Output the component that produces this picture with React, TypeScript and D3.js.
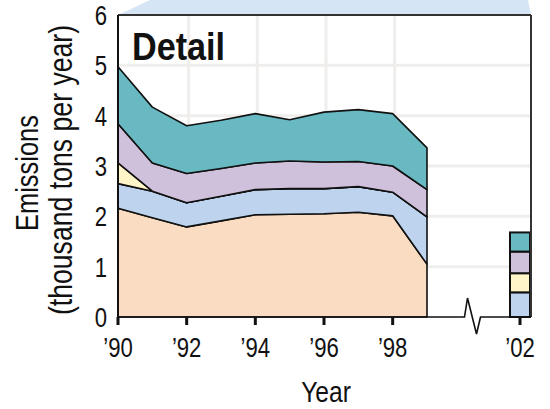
import React from "react";
import * as d3 from "d3";

const years = [1990, 1991, 1992, 1993, 1994, 1995, 1996, 1997, 1998, 1999];
const peach = [2.16, 1.97, 1.79, 1.91, 2.03, 2.04, 2.05, 2.08, 2.01, 1.05];
const blue = [0.49, 0.53, 0.48, 0.49, 0.5, 0.51, 0.5, 0.51, 0.47, 0.94];
const yellow = [0.41, 0, 0, 0, 0, 0, 0, 0, 0, 0];
const lavender = [0.78, 0.56, 0.58, 0.55, 0.53, 0.55, 0.53, 0.5, 0.52, 0.54];
const teal = [1.13, 1.11, 0.95, 0.96, 0.98, 0.82, 0.99, 1.03, 1.04, 0.83];

const barYear = 2002;
const barValues = [0, 0.49, 0.38, 0.43, 0.38]; // peach, blue, yellow, lavender, teal

const seriesKeys = ["peach", "blue", "yellow", "lavender", "teal"];
const seriesColors = ["#f9dcc1", "#bed4ee", "#fff5c9", "#cfc0dc", "#68b9c2"];

const xTickYears = [1990, 1992, 1994, 1996, 1998, 2002];
const xTickLabels = ["\u201990", "\u201992", "\u201994", "\u201996", "\u201998", "\u201902"];
const yTicks = [0, 1, 2, 3, 4, 5, 6];
const gridX = [1992, 1994, 1996, 1998];
const gridY = [1, 2, 3, 4, 5];

const FONT = "'Liberation Sans', Arial, sans-serif";
const SX = 0.82;

export default function App() {
  const left = 118, right = 531, top = 15, bottom = 317;
  const x = d3.scaleLinear().domain([1990, 1999, 2002]).range([left, 427, 520]);
  const y = d3.scaleLinear().domain([0, 6]).range([bottom, top]);

  const rows = years.map((yr, i) => ({
    year: yr,
    peach: peach[i],
    blue: blue[i],
    yellow: yellow[i],
    lavender: lavender[i],
    teal: teal[i],
  }));
  const stack = d3.stack<any>().keys(seriesKeys);
  const stacked = stack(rows);
  const area = d3
    .area<any>()
    .x((d) => x(d.data.year))
    .y0((d) => y(d[0]))
    .y1((d) => y(d[1]));

  const barRow: any = { year: barYear };
  seriesKeys.forEach((k, i) => (barRow[k] = barValues[i]));
  const barStacked = stack([barRow]);
  const barW = 20;

  const breakX = x(2000.5);
  const axisPath =
    `M${left},${bottom} L${breakX - 9},${bottom} L${breakX - 6},${bottom - 19} ` +
    `L${breakX + 3},${bottom + 17} L${breakX + 7},${bottom} L${right},${bottom}`;

  return (
    <svg width={550} height={409} style={{ position: "absolute", left: 0, top: 0 }} fontFamily={FONT}>
      <rect width={550} height={409} fill="#fff" />
      <polygon points={`${left},${top} 150,0 528,0 ${right},${top}`} fill="#d5e5f5" />
      {gridY.map((v) => (
        <line key={"gy" + v} x1={left} x2={right} y1={y(v)} y2={y(v)} stroke="#f0eeec" strokeWidth={3} />
      ))}
      {gridX.map((v) => (
        <line key={"gx" + v} x1={x(v) + 2} x2={x(v) + 2} y1={top} y2={bottom} stroke="#f0eeec" strokeWidth={3} />
      ))}
      {stacked.map((s, i) => (
        <path key={s.key} d={area(s) || ""} fill={seriesColors[i]} stroke="#111" strokeWidth={1.6} strokeLinejoin="round" />
      ))}
      {barStacked.map((s, i) =>
        s[0][1] - s[0][0] > 0 ? (
          <rect
            key={"b" + s.key}
            x={x(barYear) - barW / 2}
            y={y(s[0][1])}
            width={barW}
            height={y(s[0][0]) - y(s[0][1])}
            fill={seriesColors[i]}
            stroke="#111"
            strokeWidth={2}
          />
        ) : null
      )}
      <line x1={left} x2={right} y1={top} y2={top} stroke="#333" strokeWidth={2} />
      <line x1={right} x2={right} y1={top} y2={bottom} stroke="#333" strokeWidth={2} />
      <line x1={left} x2={left} y1={top} y2={bottom} stroke="#111" strokeWidth={2} />
      <path d={axisPath} fill="none" stroke="#111" strokeWidth={1.6} />
      {xTickYears.map((v, i) => (
        <g key={"xt" + v}>
          <line x1={x(v)} x2={x(v)} y1={bottom} y2={bottom + 8} stroke="#111" strokeWidth={3} />
          <text transform={`translate(${x(v)},357) scale(${SX},1)`} fontSize={27} textAnchor="middle" fill="#111">
            {xTickLabels[i]}
          </text>
        </g>
      ))}
      {yTicks.map((v) => (
        <text key={"yt" + v} transform={`translate(107,${y(v) + 10}) scale(${SX},1)`} fontSize={27} textAnchor="end" fill="#111">
          {v}
        </text>
      ))}
      <text transform={`translate(326,402) scale(${SX},1)`} fontSize={30} textAnchor="middle" fill="#111">
        Year
      </text>
      <text transform={`translate(38,173) rotate(-90) scale(${SX},1)`} fontSize={31} textAnchor="middle" fill="#111">
        Emissions
      </text>
      <text transform={`translate(72,170) rotate(-90) scale(${SX},1)`} fontSize={32.5} textAnchor="middle" fill="#111">
        (thousand tons per year)
      </text>
      <text transform="translate(132,60) scale(0.9,1)" fontSize={38} fontWeight="bold" fill="#111">
        Detail
      </text>
    </svg>
  );
}
